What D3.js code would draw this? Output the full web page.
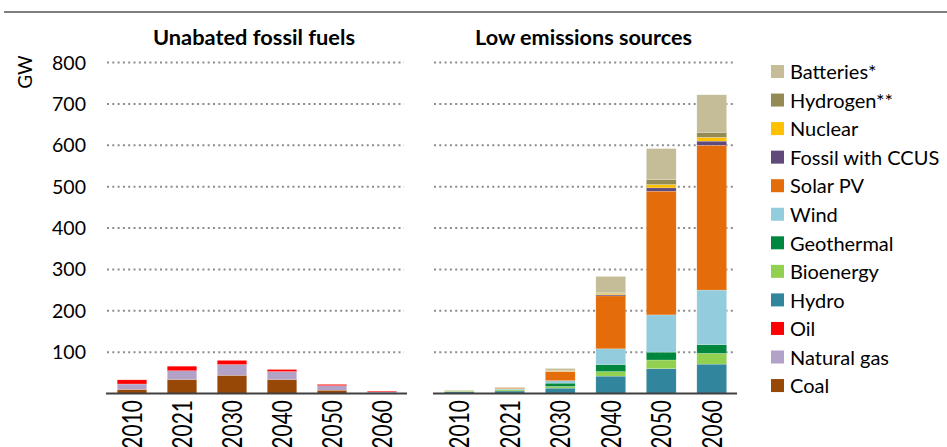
<!DOCTYPE html>
<html><head><meta charset="utf-8">
<script src="https://cdn.jsdelivr.net/npm/d3@7"></script>
<style>
html,body{margin:0;padding:0;background:#fff;}
svg{display:block;font-family:Lato,"Open Sans",sans-serif;}
</style></head>
<body><svg id="chart" width="947" height="447"></svg>
<script>
const years = ["2010","2021","2030","2040","2050","2060"];
const yTicks = [100,200,300,400,500,600,700,800];

// Unabated fossil fuels (GW)
const coal = [10, 34, 44, 34, 8, 1];
const naturalGas = [13, 21, 26, 19, 11, 3];
const oil = [10, 11, 10, 5, 3, 2];

// Low emissions sources (GW)
const hydro = [4, 6, 13, 42, 60, 71];
const bioenergy = [2, 3, 4, 11, 21, 26];
const geothermal = [0.5, 1, 8, 17, 19, 21];
const wind = [1, 2, 6, 38, 90, 132];
const solarPV = [0.5, 2, 22, 128, 299, 350];
const fossilCCUS = [0, 0, 0.5, 3, 8, 10];
const nuclear = [0, 0, 1, 3, 8, 9];
const hydrogen = [0, 0, 1, 2, 12, 12];
const batteries = [0, 1, 5, 39, 75, 91];

const fossilSeries = [
  {key:"Coal", values:coal, color:"#974706"},
  {key:"Natural gas", values:naturalGas, color:"#b3a2c7"},
  {key:"Oil", values:oil, color:"#ff0000"}
];
const lowSeries = [
  {key:"Hydro", values:hydro, color:"#31859c"},
  {key:"Bioenergy", values:bioenergy, color:"#92d050"},
  {key:"Geothermal", values:geothermal, color:"#00873e"},
  {key:"Wind", values:wind, color:"#93cddd"},
  {key:"Solar PV", values:solarPV, color:"#e46c0a"},
  {key:"Fossil with CCUS", values:fossilCCUS, color:"#604a7b"},
  {key:"Nuclear", values:nuclear, color:"#ffc000"},
  {key:"Hydrogen**", values:hydrogen, color:"#948a54"},
  {key:"Batteries*", values:batteries, color:"#c4bd97"}
];
const legendOrder = ["Batteries*","Hydrogen**","Nuclear","Fossil with CCUS","Solar PV","Wind","Geothermal","Bioenergy","Hydro","Oil","Natural gas","Coal"];

const svg = d3.select("#chart");
const y = d3.scaleLinear().domain([0,800]).range([393.5, 62.5]);

// top rule
svg.append("line").attr("x1",4).attr("x2",947).attr("y1",12).attr("y2",12)
  .attr("stroke","#7f7f7f").attr("stroke-width",2);

// y axis labels
svg.append("g").selectAll("text").data(yTicks).join("text")
  .attr("x",86).attr("y",d=>y(d)).attr("dy","0.36em")
  .attr("text-anchor","end").attr("font-size",19.5).attr("fill","#000")
  .text(d=>d);
svg.append("text").attr("transform","translate(32,72) rotate(-90)")
  .attr("text-anchor","middle").attr("font-size",19).attr("fill","#000").text("GW");

function panel(series, x0, x1, title, titleX, titleLen){
  const x = d3.scaleBand().domain(years).range([x0,x1]).paddingInner(0.41).paddingOuter(0.205);
  const g = svg.append("g");
  g.selectAll("line.grid").data(yTicks).join("line").attr("class","grid")
    .attr("x1",x0).attr("x2",x1-3).attr("y1",d=>y(d)).attr("y2",d=>y(d))
    .attr("stroke","#8c8c8c").attr("stroke-width",2).attr("stroke-dasharray","2 3.3");
  const rows = years.map((yr,i)=>{const o={year:yr}; series.forEach(s=>o[s.key]=s.values[i]); return o;});
  const stack = d3.stack().keys(series.map(s=>s.key))(rows);
  g.selectAll("g.layer").data(stack).join("g").attr("class","layer")
    .attr("fill",(d,i)=>series[i].color)
    .selectAll("rect").data(d=>d).join("rect")
    .attr("x",d=>x(d.data.year)).attr("width",x.bandwidth())
    .attr("y",d=>y(d[1])).attr("height",d=>Math.max(0,y(d[0])-y(d[1])))
    .attr("stroke","#fff").attr("stroke-width",0.5).attr("stroke-opacity",0.4);
  g.append("line").attr("x1",x0-1).attr("x2",x1).attr("y1",y(0)).attr("y2",y(0))
    .attr("stroke","#404040").attr("stroke-width",2);
  g.selectAll("text.xl").data(years).join("text").attr("class","xl")
    .attr("transform",d=>`translate(${x(d)+x.bandwidth()/2},400) rotate(-90) scale(1,1.3)`)
    .attr("dy","0.36em").attr("text-anchor","end").attr("font-size",21).attr("fill","#000")
    .text(d=>d);
  svg.append("text").attr("x",titleX).attr("y",45).attr("text-anchor","middle")
    .attr("font-size",20).attr("font-weight","bold").attr("fill","#000")
    .attr("textLength",titleLen).attr("lengthAdjust","spacingAndGlyphs").text(title);
}
panel(fossilSeries, 107, 407, "Unabated fossil fuels", 254, 202);
panel(lowSeries, 434, 737, "Low emissions sources", 583.5, 217);

const allSeries = fossilSeries.concat(lowSeries);
const colorOf = k => allSeries.find(s=>s.key===k).color;
const lg = svg.append("g").selectAll("g").data(legendOrder).join("g")
  .attr("transform",(d,i)=>`translate(771,${72 + i*28.55})`);
lg.append("rect").attr("x",0).attr("y",-7).attr("width",13).attr("height",13).attr("fill",d=>colorOf(d));
lg.append("text").attr("x",19).attr("dy","0.36em").attr("font-size",20).attr("fill","#000").text(d=>d);
</script></body></html>
